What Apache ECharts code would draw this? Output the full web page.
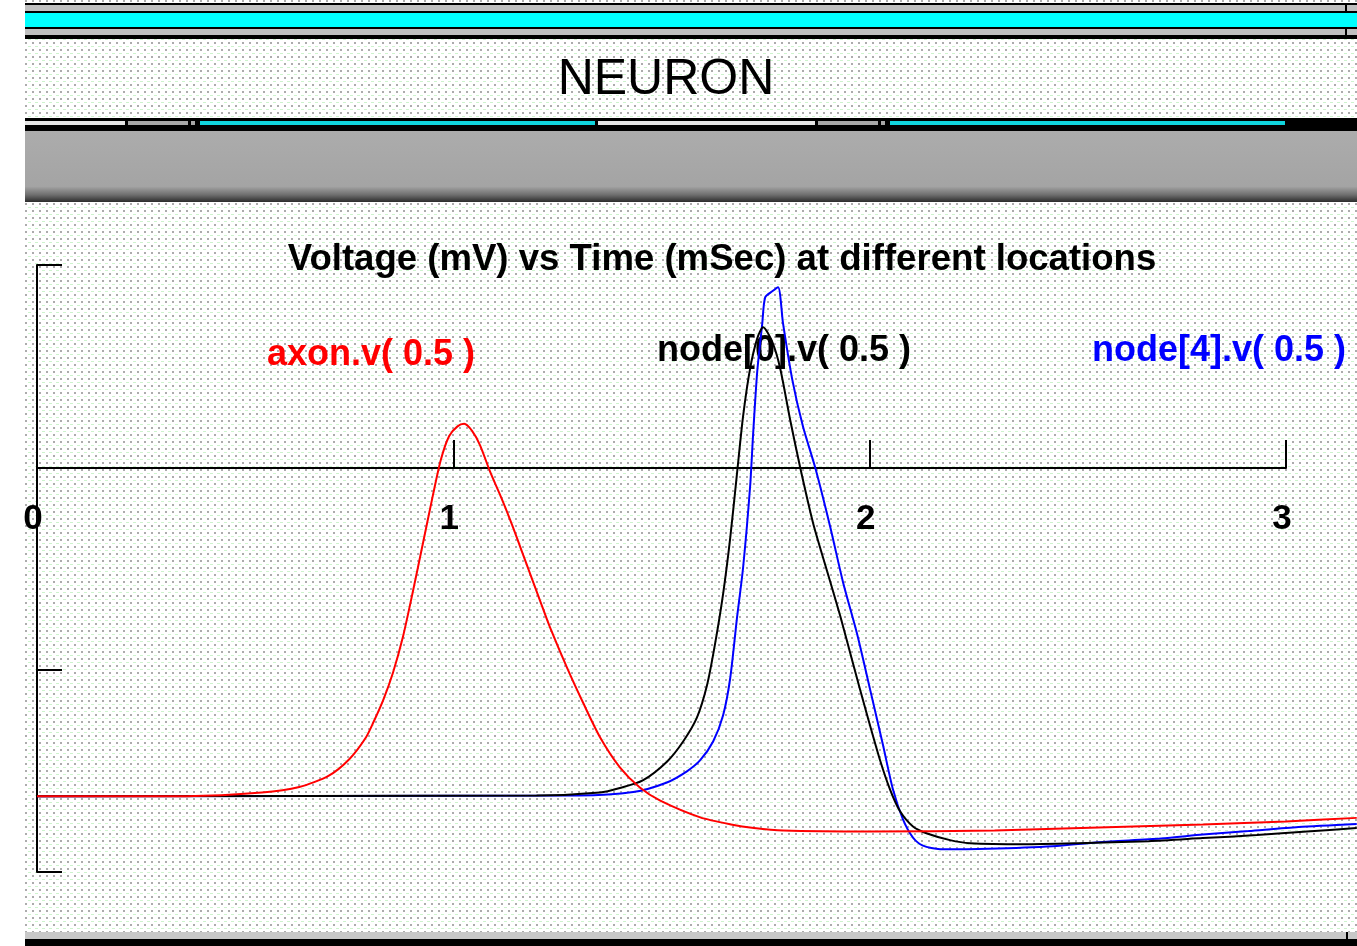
<!DOCTYPE html>
<html>
<head>
<meta charset="utf-8">
<title>NEURON</title>
<script src="https://cdn.jsdelivr.net/npm/echarts/dist/echarts.min.js"></script>
<style>
  html, body { margin: 0; padding: 0; background: #ffffff; overflow: hidden; }
  #bg { position: absolute; left: 25px; top: 0; width: 1332px; height: 946px; background-color: #ffffff; }
  #chart { position: absolute; left: 0; top: 0; width: 1357px; height: 946px; }
</style>
</head>
<body>
<div id="bg"></div>
<div id="chart"></div>
<script>
// Time tick labels (ms)
const timeTicks = ['0', '1', '2', '3'];

// Series names as shown on the graph
const seriesNames = ['axon.v( 0.5 )', 'node[0].v( 0.5 )', 'node[4].v( 0.5 )'];

// Membrane potential traces: [time (ms), voltage (mV)]
const axonV = [
  [0, -65], [0.36, -65], [0.54, -64.3], [0.63, -63.2], [0.70, -61.0], [0.75, -57.7],
  [0.79, -53.4], [0.808, -50.4], [0.832, -45.9], [0.855, -40.6], [0.879, -33.5],
  [0.903, -24.5], [0.927, -15.0], [0.951, -5.5], [0.970, 1.5], [0.990, 6.2],
  [1.010, 8.1], [1.026, 8.6], [1.045, 7.2], [1.064, 4.4], [1.088, -0.8],
  [1.110, -5.0], [1.129, -8.8], [1.153, -14.0], [1.177, -19.4], [1.208, -26.3],
  [1.232, -31.6], [1.273, -39.6], [1.312, -46.6], [1.352, -53.3], [1.40, -59.3],
  [1.448, -63.3], [1.497, -65.9], [1.593, -69.2], [1.667, -70.6], [1.722, -71.3],
  [1.792, -71.8], [2.0, -72.0], [2.3, -71.8], [2.55, -71.2], [2.8, -70.6],
  [3.0, -70.0], [3.17, -69.3]
];

const node0V = [
  [0, -65], [1.2, -64.9], [1.352, -64.3], [1.40, -63.4], [1.455, -61.9], [1.513, -58.2],
  [1.552, -54.2], [1.585, -49.5], [1.609, -43.2], [1.628, -35.2], [1.648, -25.0],
  [1.665, -14.0], [1.681, -1.5], [1.696, 10.1], [1.713, 19.6], [1.730, 25.5],
  [1.744, 27.7], [1.766, 24.8], [1.785, 19.6], [1.809, 9.4], [1.833, 0],
  [1.864, -11.0], [1.898, -20.6], [1.929, -29.3], [1.960, -38.8], [1.994, -49.0],
  [2.025, -57.9], [2.049, -63.7], [2.073, -68.0], [2.104, -71.0], [2.138, -72.4],
  [2.193, -73.7], [2.241, -74.3], [2.37, -74.5], [2.5, -74.3], [2.67, -73.9],
  [2.8, -73.3], [2.93, -72.7], [3.05, -72.0], [3.17, -71.3]
];

const node4V = [
  [0, -65], [1.30, -64.9], [1.432, -64.2], [1.513, -62.3], [1.561, -60.1], [1.593, -57.9],
  [1.624, -54.2], [1.648, -49.0], [1.665, -41.7], [1.681, -30.0], [1.696, -19.8],
  [1.713, -3.6], [1.720, 6.5], [1.730, 19.0], [1.742, 28.4], [1.749, 33.6],
  [1.766, 34.8], [1.780, 35.6], [1.792, 28.4], [1.814, 17.4], [1.840, 8.0],
  [1.869, 0], [1.905, -11.7], [1.936, -22.7], [1.970, -33.0], [2.001, -43.9],
  [2.032, -54.9], [2.056, -63.7], [2.080, -69.6], [2.104, -73.2], [2.128, -74.8],
  [2.169, -75.5], [2.284, -75.4], [2.44, -74.9], [2.55, -74.1], [2.70, -73.4],
  [2.80, -72.6], [2.91, -71.9], [3.03, -71.1], [3.17, -70.5]
];

// Dotted window texture
(function () {
  const c = document.createElement('canvas');
  c.width = 7; c.height = 7;
  const g = c.getContext('2d');
  g.fillStyle = '#ffffff'; g.fillRect(0, 0, 7, 7);
  g.fillStyle = '#acacac'; g.fillRect(0, 0, 2, 2);
  g.fillStyle = '#cdf3cd'; g.fillRect(3, 4, 3, 1);
  document.getElementById('bg').style.backgroundImage = 'url(' + c.toDataURL() + ')';
})();

const FONT = '"Liberation Sans", Arial, Helvetica, sans-serif';
const T_RANGE = 3;                 // labelled time span on the axis
const AXIS_W = 1249;               // pixels for 0..3 ms
const PLOT_W = 1320;               // traces run to the right window edge
const tMax = PLOT_W * T_RANGE / AXIS_W;

function rect(x, y, w, h, fill) {
  return { type: 'rect', silent: true, z: -10, shape: { x: x, y: y, width: w, height: h }, style: { fill: fill } };
}
function label(text, x, y, color, font, align) {
  return {
    type: 'text', silent: true, x: x, y: y, z: -5,
    style: {
      text: text, fill: color, font: font,
      align: align, textAlign: align,
      verticalAlign: 'middle', textVerticalAlign: 'middle'
    }
  };
}

// Window frame: caption bars, menu bar, tool strip, bottom border
const frame = [
  rect(25, 3, 1332, 2, '#000000'),
  rect(25, 5, 1332, 6, '#c0c0c0'),
  rect(25, 11, 1332, 2, '#000000'),
  rect(25, 13, 1332, 14, '#00ffff'),
  rect(25, 27, 1332, 2, '#000000'),
  rect(25, 29, 1332, 6, '#c0c0c0'),
  rect(25, 35, 1332, 4, '#000000'),
  rect(1345, 3, 2, 8, '#000000'),
  rect(1345, 27, 2, 10, '#000000'),

  rect(25, 118, 1332, 13, '#000000'),
  rect(25, 121, 100, 4, '#e6e6e6'),
  rect(128, 121, 60, 4, '#a8a8a8'),
  rect(191, 121, 4, 4, '#a8a8a8'),
  rect(200, 121, 395, 4, '#10d4dc'),
  rect(598, 121, 217, 4, '#e6e6e6'),
  rect(818, 121, 60, 4, '#a8a8a8'),
  rect(881, 121, 4, 4, '#a8a8a8'),
  rect(890, 121, 395, 4, '#10d4dc'),

  {
    type: 'rect', silent: true, z: -10,
    shape: { x: 25, y: 131, width: 1332, height: 71 },
    style: {
      fill: new echarts.graphic.LinearGradient(0, 0, 0, 1, [
        { offset: 0, color: '#acacac' },
        { offset: 0.78, color: '#a4a4a4' },
        { offset: 0.9, color: '#6e6e6e' },
        { offset: 1, color: '#2c2c2c' }
      ])
    }
  },

  rect(25, 932, 1332, 7, '#c8c8c8'),
  rect(25, 939, 1332, 7, '#000000'),
  rect(1346, 932, 2, 14, '#000000')
];

const texts = [
  label('NEURON', 666, 80, '#000000', 'normal 50px ' + FONT, 'center'),
  label('Voltage (mV) vs Time (mSec) at different locations', 722, 260, '#000000', 'bold 36.6px ' + FONT, 'center'),
  label(seriesNames[0], 267, 355, '#ff0000', 'bold 36px ' + FONT, 'left'),
  label(seriesNames[1], 657, 351, '#000000', 'bold 36px ' + FONT, 'left'),
  label(seriesNames[2], 1092, 351, '#0000ff', 'bold 36px ' + FONT, 'left')
];

const chart = echarts.init(document.getElementById('chart'), null, { renderer: 'canvas' });

function trace(name, data, color, z) {
  return {
    name: name, type: 'line', xAxisIndex: 2, yAxisIndex: 2, data: data,
    symbol: 'none', showSymbol: false, smooth: 0.25,
    lineStyle: { color: color, width: 2 }, silent: true, z: z, clip: true
  };
}

const black2 = { color: '#000000', width: 2 };

chart.setOption({
  animation: false,
  backgroundColor: 'transparent',
  grid: [
    // time axis sits on the 0 mV line
    { left: 37, top: 265, width: AXIS_W, height: 203 },
    // voltage axis spans -80..40 mV
    { left: 37, top: 265, width: AXIS_W, height: 607 },
    // traces
    { left: 37, top: 265, width: PLOT_W, height: 607 }
  ],
  xAxis: [
    {
      gridIndex: 0, type: 'value', min: 0, max: T_RANGE, interval: 1, position: 'bottom',
      axisLine: { show: true, onZero: false, lineStyle: black2 },
      axisTick: { show: true, inside: true, length: 28, lineStyle: black2 },
      axisLabel: {
        show: true, margin: 34, color: '#000000', fontSize: 35, fontWeight: 'bold', fontFamily: FONT,
        padding: [0, 8, 0, 0], showMinLabel: true, showMaxLabel: true,
        formatter: function (v) { return timeTicks[Math.round(v)]; }
      },
      splitLine: { show: false }
    },
    { gridIndex: 1, type: 'value', min: 0, max: T_RANGE, show: false },
    { gridIndex: 2, type: 'value', min: 0, max: tMax, show: false }
  ],
  yAxis: [
    { gridIndex: 0, type: 'value', min: 0, max: 40, show: false },
    {
      gridIndex: 1, type: 'value', min: -80, max: 40, interval: 40, position: 'left',
      axisLine: { show: true, onZero: false, lineStyle: black2 },
      axisTick: { show: true, inside: true, length: 25, lineStyle: black2 },
      axisLabel: { show: false },
      splitLine: { show: false }
    },
    { gridIndex: 2, type: 'value', min: -80, max: 40, show: false }
  ],
  graphic: { elements: frame.concat(texts) },
  series: [
    trace(seriesNames[2], node4V, '#0000ff', 3),
    trace(seriesNames[1], node0V, '#000000', 4),
    trace(seriesNames[0], axonV, '#ff0000', 5)
  ]
});
</script>
</body>
</html>
